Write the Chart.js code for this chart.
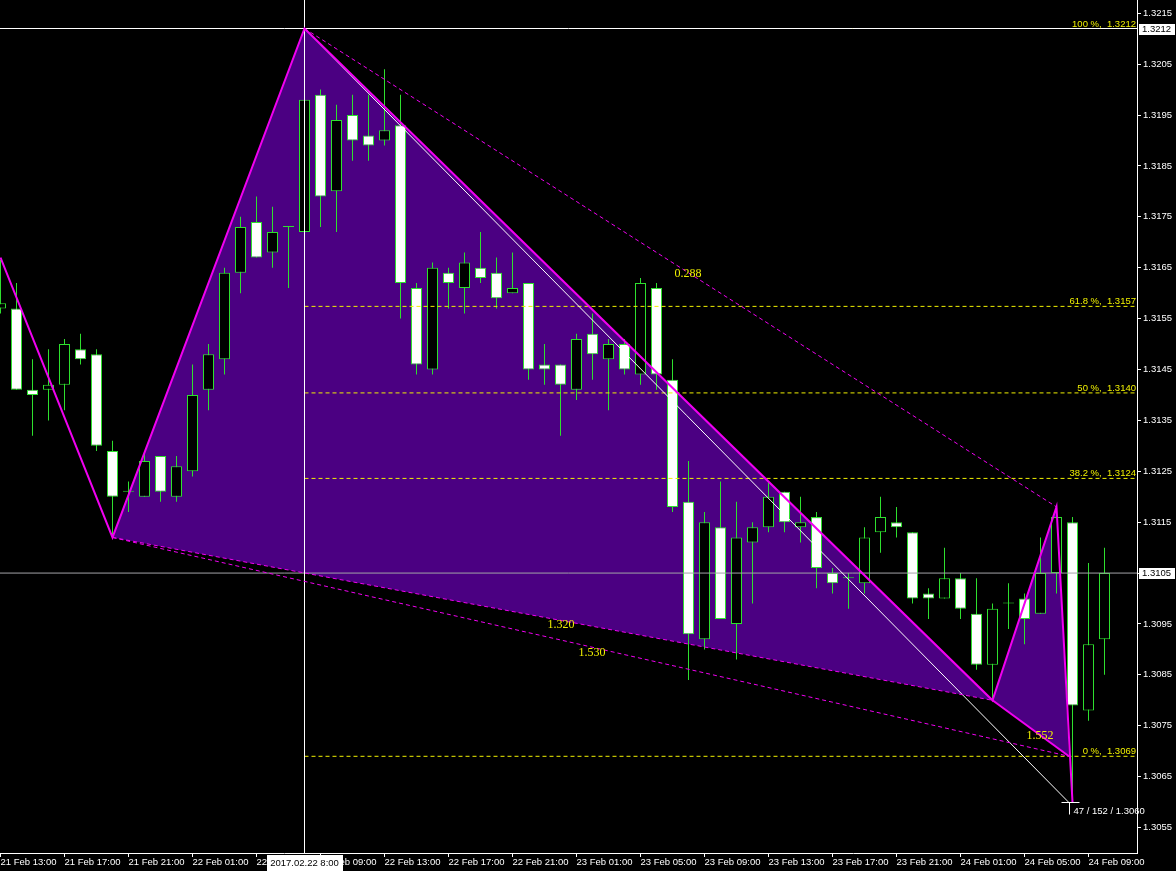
<!DOCTYPE html>
<html>
<head>
<meta charset="utf-8">
<script src="https://cdn.jsdelivr.net/npm/chart.js@4.4.1/dist/chart.umd.min.js"></script>
<style>
  html, body { margin: 0; padding: 0; background: #000; }
  canvas { display: block; }
</style>
</head>
<body>
<canvas id="chart" width="1176" height="871"></canvas>
<script>
// H1 candles, 21 Feb 13:00 .. 24 Feb 10:00 (bar index 0..69)
const opens = [1.3157,1.3157,1.3141,1.3141,1.3142,1.3149,1.3148,1.3129,1.3121,1.3120,
  1.3128,1.3120,1.3125,1.3141,1.3147,1.3164,1.3174,1.3168,1.3173,1.3172,
  1.3199,1.3180,1.3195,1.3191,1.3190,1.3193,1.3161,1.3145,1.3164,1.3161,
  1.3165,1.3164,1.3160,1.3162,1.3146,1.3146,1.3141,1.3152,1.3147,1.3150,
  1.3144,1.3161,1.3143,1.3119,1.3092,1.3114,1.3095,1.3111,1.3114,1.3121,
  1.3114,1.3116,1.3105,1.3104,1.3103,1.3113,1.3115,1.3113,1.3101,1.3100,
  1.3104,1.3097,1.3087,1.3099,1.3100,1.3097,1.3105,1.3115,1.3078,1.3092];
const highs = [1.31665,1.3162,1.3147,1.3149,1.3151,1.3152,1.3149,1.3131,1.3123,1.3129,
  1.3128,1.3128,1.3146,1.3150,1.3165,1.3175,1.3179,1.3177,1.3173,1.3212,
  1.3200,1.3197,1.3199,1.3199,1.3204,1.3199,1.3162,1.3166,1.3165,1.3168,
  1.3172,1.3167,1.3168,1.3162,1.3150,1.3146,1.3152,1.3156,1.3151,1.3151,
  1.3163,1.3162,1.3147,1.3127,1.3117,1.3123,1.3119,1.3115,1.3123,1.3121,
  1.3120,1.3117,1.3106,1.3105,1.3114,1.3120,1.3118,1.3113,1.3102,1.3110,
  1.3105,1.3104,1.3099,1.3103,1.3101,1.3112,1.3118,1.3116,1.3107,1.3110];
const lows = [1.3156,1.3141,1.3132,1.3135,1.3137,1.3146,1.3129,1.3112,1.3117,1.3120,
  1.3119,1.3119,1.3124,1.3137,1.3144,1.3160,1.3167,1.3165,1.3161,1.3171,
  1.3173,1.3172,1.3186,1.3186,1.3189,1.3155,1.3144,1.3144,1.3157,1.3156,
  1.3162,1.3157,1.3160,1.3143,1.3142,1.3132,1.3139,1.3143,1.3137,1.3144,
  1.3142,1.3141,1.3117,1.3084,1.3090,1.3096,1.3088,1.3099,1.3113,1.3113,
  1.3111,1.3102,1.3101,1.3098,1.3101,1.3109,1.3112,1.3099,1.3096,1.3100,
  1.3096,1.3086,1.3080,1.3094,1.3091,1.3097,1.3101,1.3060,1.3076,1.3085];
const closes = [1.3158,1.3141,1.3140,1.3142,1.3150,1.3147,1.3130,1.3120,1.3121,1.3127,
  1.3121,1.3126,1.3140,1.3148,1.3164,1.3173,1.3167,1.3172,1.3173,1.3198,
  1.3179,1.3194,1.3190,1.3189,1.3192,1.3162,1.3146,1.3165,1.3162,1.3166,
  1.3163,1.3159,1.3161,1.3145,1.3145,1.3142,1.3151,1.3148,1.3150,1.3145,
  1.3162,1.3144,1.3118,1.3093,1.3115,1.3096,1.3112,1.3114,1.3120,1.3115,
  1.3115,1.3106,1.3103,1.3104,1.3112,1.3116,1.3114,1.3100,1.3100,1.3104,
  1.3098,1.3087,1.3098,1.3099,1.3096,1.3105,1.3116,1.3079,1.3091,1.3105];

const xTickIdx = [0,4,8,12,16,20,24,28,32,36,40,44,48,52,56,60,64,68];
const xTickLabels = ['21 Feb 13:00','21 Feb 17:00','21 Feb 21:00','22 Feb 01:00','22 Feb 05:00',
  '22 Feb 09:00','22 Feb 13:00','22 Feb 17:00','22 Feb 21:00','23 Feb 01:00','23 Feb 05:00',
  '23 Feb 09:00','23 Feb 13:00','23 Feb 17:00','23 Feb 21:00','24 Feb 01:00','24 Feb 05:00',
  '24 Feb 09:00'];
const yTicks = [1.3055,1.3065,1.3075,1.3085,1.3095,1.3105,1.3115,1.3125,1.3135,1.3145,
  1.3155,1.3165,1.3175,1.3185,1.3195,1.3205,1.3215];

// zigzag pattern points X A B C D E (bar index / price)
const zzIdx   = [0, 7, 19, 62, 66, 67];
const zzPrice = [1.3167, 1.3112, 1.3212, 1.3080, 1.3118, 1.3060];
// point where the second triangle closes on the D-E leg (0 % level)
const tipIdx = 66.78, tipPrice = 1.3069;

const fibLevels = ['100', '61.8', '50', '38.2', '0'];
const fibPrices = [1.3212, 1.31574, 1.31404, 1.31236, 1.3069];

const ratioText  = ['0.288', '1.320', '1.530', '1.552'];
const ratioIdx   = [42.97, 35.03, 36.97, 64.97];
const ratioPrice = [1.31638, 1.30948, 1.30893, 1.30730];

const bidPrice = 1.3105;
const crossIdx = 19, crossPrice = 1.3212, crossDate = '2017.02.22 8:00';
const measureIdx = 66.75, measurePrice = 1.3060, measureText = '47 / 152 / 1.3060';

const X_MIN = -0.03125, X_MAX = 71.03125;
const Y_MIN = 1.3050, Y_MAX = 1.32176;

const GREEN = '#2ee02e';
const MAGENTA = '#f000f0';
const YELLOW = '#f0f000';
const FONT = 'Liberation Sans';

const idx = opens.map((_, i) => i);
const pt = (i, p) => ({ x: i, y: p });

function seg(points, color, width, dash, order) {
  return {
    type: 'line', data: points, borderColor: color, borderWidth: width,
    borderDash: dash || [], pointRadius: 0, fill: false, tension: 0, order: order
  };
}

const A = pt(zzIdx[1], zzPrice[1]), B = pt(zzIdx[2], zzPrice[2]);
const C = pt(zzIdx[3], zzPrice[3]), D = pt(zzIdx[4], zzPrice[4]);
const T = pt(tipIdx, tipPrice);
const triangles = [[A, B, C], [C, D, T]];

const datasets = [
  {
    type: 'bar', data: idx.map(i => ({ x: i, y: [lows[i], highs[i]] })),
    backgroundColor: GREEN, borderWidth: 0, barThickness: 1, grouped: false,
    inflateAmount: 0, order: 4
  },
  {
    type: 'bar', data: idx.map(i => ({ x: i, y: [opens[i], closes[i]] })),
    backgroundColor: idx.map(i => closes[i] < opens[i] ? '#ffffff' : (closes[i] > opens[i] ? '#000000' : GREEN)),
    borderColor: GREEN, borderWidth: 1, borderSkipped: false, barThickness: 11,
    minBarLength: 1, grouped: false, inflateAmount: 0, order: 3
  },
  seg([pt(X_MIN, bidPrice), pt(X_MAX, bidPrice)], '#a4a4a8', 1, null, 2)
];
fibPrices.forEach(p => datasets.push(seg([pt(crossIdx, p), pt(X_MAX, p)], YELLOW, 1, [4, 3], 2)));
datasets.push(seg([pt(X_MIN, crossPrice), pt(X_MAX, crossPrice)], '#ffffff', 1, null, 1));
datasets.push(seg([pt(crossIdx, Y_MAX), pt(crossIdx, Y_MIN)], '#ffffff', 1, null, 1));
datasets.push(seg([B, pt(measureIdx, measurePrice)], '#ffffff', 1, null, 1));
datasets.push(seg([A, C], MAGENTA, 1, [4, 3], 0));
datasets.push(seg([A, T], MAGENTA, 1, [4, 3], 0));
datasets.push(seg([B, D], MAGENTA, 1, [4, 3], 0));
datasets.push(seg([C, T], MAGENTA, 2, null, 0));
datasets.push(seg(zzIdx.map((v, i) => pt(v, zzPrice[i])), MAGENTA, 2, null, 0));

const overlay = {
  id: 'overlay',
  beforeDatasetsDraw(chart) {
    const { ctx, chartArea: a, scales: { x, y } } = chart;
    ctx.save();
    ctx.beginPath(); ctx.rect(a.left, a.top, a.width, a.height); ctx.clip();
    ctx.fillStyle = '#4b0082';
    triangles.forEach(t => {
      ctx.beginPath();
      t.forEach((p, j) => {
        const px = x.getPixelForValue(p.x), py = y.getPixelForValue(p.y);
        if (j) ctx.lineTo(px, py); else ctx.moveTo(px, py);
      });
      ctx.closePath(); ctx.fill();
    });
    ctx.restore();
  },
  afterDraw(chart) {
    const { ctx, chartArea: a, scales: { x, y } } = chart;
    ctx.save();
    // fibo descriptions
    ctx.font = '9.5px "' + FONT + '"';
    ctx.fillStyle = YELLOW;
    ctx.textAlign = 'right'; ctx.textBaseline = 'alphabetic';
    fibPrices.forEach((p, i) => {
      ctx.fillText(fibLevels[i] + ' %,  ' + p.toFixed(4), a.right - 1, Math.round(y.getPixelForValue(p)) - 2);
    });
    // ratio numbers of the pattern
    ctx.font = '12px "Liberation Serif"';
    ctx.textAlign = 'center'; ctx.textBaseline = 'middle';
    ratioText.forEach((t, i) => ctx.fillText(t, x.getPixelForValue(ratioIdx[i]), y.getPixelForValue(ratioPrice[i])));
    // measure cursor + text
    const mx = Math.round(x.getPixelForValue(measureIdx)) + 0.5, my = Math.round(y.getPixelForValue(measurePrice)) + 0.5;
    ctx.strokeStyle = '#ffffff'; ctx.lineWidth = 1;
    ctx.beginPath();
    ctx.moveTo(mx - 8, my); ctx.lineTo(mx + 10, my);
    ctx.moveTo(mx, my); ctx.lineTo(mx, my + 12);
    ctx.stroke();
    ctx.font = '9.5px "' + FONT + '"';
    ctx.fillStyle = '#ffffff'; ctx.textAlign = 'left'; ctx.textBaseline = 'top';
    ctx.fillText(measureText, x.getPixelForValue(zzIdx[5]) + 1, my + 4);
    // price boxes on the axis
    [crossPrice, bidPrice].forEach(p => {
      const py = Math.round(y.getPixelForValue(p));
      ctx.fillStyle = '#ffffff';
      ctx.fillRect(a.right + 2, py - 5, 36, 11);
      ctx.fillStyle = '#000000'; ctx.textAlign = 'left'; ctx.textBaseline = 'middle';
      ctx.fillText(p.toFixed(4), a.right + 5, py + 0.5);
    });
    // date box under crosshair
    const cx = x.getPixelForValue(crossIdx);
    ctx.fillStyle = '#ffffff';
    ctx.fillRect(Math.round(cx) - 38, a.bottom + 2, 76, 18);
    ctx.fillStyle = '#000000'; ctx.textAlign = 'center'; ctx.textBaseline = 'middle';
    ctx.fillText(crossDate, cx, a.bottom + 10.5);
    ctx.restore();
  }
};

new Chart(document.getElementById('chart'), {
  type: 'bar',
  data: { datasets: datasets },
  options: {
    responsive: false,
    animation: false,
    events: [],
    layout: { padding: 0 },
    plugins: { legend: { display: false }, tooltip: { enabled: false } },
    scales: {
      x: {
        type: 'linear', min: X_MIN, max: X_MAX, offset: false,
        grid: { display: true, drawOnChartArea: false, drawTicks: true, tickLength: 4, color: '#ffffff', offset: false },
        border: { display: true, color: '#ffffff', width: 1 },
        afterBuildTicks: s => { s.ticks = xTickIdx.map(v => ({ value: v })); },
        afterFit: s => { s.height = 18; s.paddingLeft = 0; s.paddingRight = 0; },
        ticks: {
          align: 'start', maxRotation: 0, minRotation: 0, autoSkip: false, padding: 0,
          color: '#ffffff', font: { family: FONT, size: 9.5 },
          callback: v => xTickLabels[xTickIdx.indexOf(v)]
        }
      },
      y: {
        type: 'linear', position: 'right', min: Y_MIN, max: Y_MAX,
        grid: { display: true, drawOnChartArea: false, drawTicks: true, tickLength: 4, color: '#ffffff' },
        border: { display: true, color: '#ffffff', width: 1 },
        afterBuildTicks: s => { s.ticks = yTicks.map(v => ({ value: v })); },
        afterFit: s => { s.width = 39; s.paddingTop = 0; s.paddingBottom = 0; },
        ticks: {
          autoSkip: false, padding: 2, color: '#ffffff', font: { family: FONT, size: 9.5 },
          callback: v => v.toFixed(4)
        }
      }
    }
  },
  plugins: [overlay]
});
</script>
</body>
</html>
